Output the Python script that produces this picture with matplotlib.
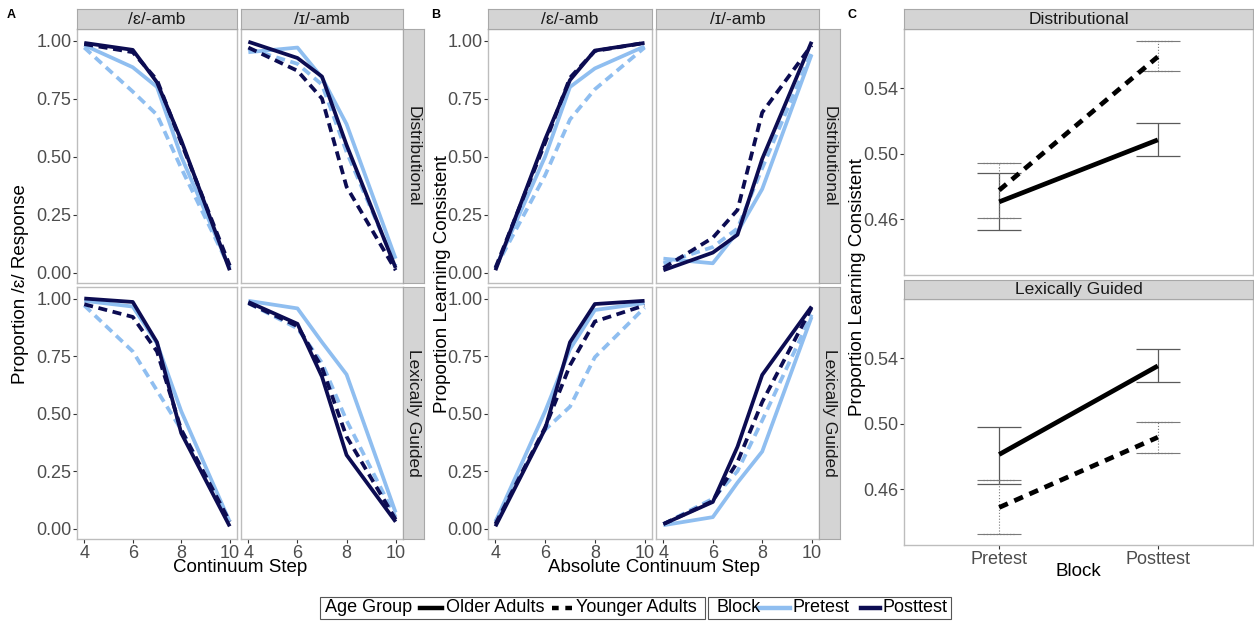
import matplotlib
matplotlib.use('Agg')
import matplotlib.pyplot as plt
from matplotlib.lines import Line2D
from matplotlib.patches import Rectangle

plt.rcParams['font.family'] = ['Liberation Sans', 'DejaVu Sans']

W, H = 1254, 621

# continuum steps (x) shared by panels A and B
steps = [4, 6, 7, 8, 10]

# panel A : proportion /e/ response, rows = pre/older, pre/younger, post/older, post/younger
a_dist_eps = [[0.98, 0.885, 0.80, 0.50, 0.02],
              [0.97, 0.78, 0.68, 0.45, 0.02],
              [0.99, 0.96, 0.82, 0.57, 0.01],
              [0.985, 0.95, 0.83, 0.56, 0.03]]
a_dist_ih = [[0.95, 0.97, 0.84, 0.64, 0.06],
             [0.965, 0.90, 0.81, 0.52, 0.03],
             [0.995, 0.925, 0.845, 0.55, 0.02],
             [0.97, 0.87, 0.75, 0.37, 0.01]]
a_lex_eps = [[0.99, 0.965, 0.805, 0.51, 0.03],
             [0.97, 0.77, 0.60, 0.43, 0.03],
             [1.0, 0.985, 0.81, 0.415, 0.01],
             [0.975, 0.92, 0.77, 0.43, 0.03]]
a_lex_ih = [[0.99, 0.957, 0.81, 0.67, 0.07],
            [0.98, 0.87, 0.72, 0.47, 0.05],
            [0.985, 0.89, 0.66, 0.32, 0.03],
            [0.98, 0.88, 0.70, 0.40, 0.04]]

# panel B : proportion learning consistent
b_dist_eps = [[0.02, 0.50, 0.80, 0.88, 0.975],
              [0.02, 0.42, 0.66, 0.79, 0.97],
              [0.01, 0.575, 0.83, 0.957, 0.99],
              [0.02, 0.56, 0.84, 0.955, 0.99]]
b_dist_ih = [[0.06, 0.04, 0.175, 0.36, 0.94],
             [0.04, 0.11, 0.19, 0.45, 0.95],
             [0.01, 0.086, 0.163, 0.49, 0.995],
             [0.02, 0.15, 0.27, 0.69, 0.98]]
b_lex_eps = [[0.03, 0.51, 0.78, 0.95, 0.98],
             [0.03, 0.43, 0.53, 0.745, 0.96],
             [0.01, 0.434, 0.81, 0.976, 0.99],
             [0.02, 0.44, 0.71, 0.90, 0.97]]
b_lex_ih = [[0.015, 0.05, 0.20, 0.335, 0.92],
            [0.02, 0.13, 0.25, 0.47, 0.93],
            [0.02, 0.116, 0.356, 0.668, 0.965],
            [0.02, 0.12, 0.29, 0.55, 0.96]]

# panel C : means with error bars (Pretest, Posttest)
blocks = ['Pretest', 'Posttest']
c_dist_old = [0.4706, 0.5084]
c_dist_old_lo = [0.4537, 0.4984]
c_dist_old_hi = [0.4880, 0.5185]
c_dist_young = [0.4777, 0.5591]
c_dist_young_lo = [0.4610, 0.5504]
c_dist_young_hi = [0.4941, 0.5689]
c_lex_old = [0.4812, 0.5352]
c_lex_old_lo = [0.4635, 0.5256]
c_lex_old_hi = [0.4982, 0.5453]
c_lex_young = [0.4489, 0.4917]
c_lex_young_lo = [0.4327, 0.4820]
c_lex_young_hi = [0.4655, 0.5012]

facet_cols = ['/ɛ/-amb', '/ɪ/-amb']
facet_rows = ['Distributional', 'Lexically Guided']

light = '#8fbef0'
navy = '#0c0c52'
tick_col = '#4d4d4d'
border = '#bdbdbd'
strip_fill = '#d4d4d4'
FS = 13

fig = plt.figure(figsize=(W / 100, H / 100), dpi=100)


def px_axes(x0, y0, x1, y1):
    return fig.add_axes([x0 / W, 1 - y1 / H, (x1 - x0) / W, (y1 - y0) / H])


def style_panel(ax):
    for s in ax.spines.values():
        s.set_color(border)
        s.set_linewidth(1.0)
    ax.tick_params(colors='#333333', labelcolor=tick_col, labelsize=FS,
                   length=3, width=0.8, pad=1)


def strip(x0, y0, x1, y1, text, rot=0):
    sa = px_axes(x0, y0, x1, y1)
    sa.set_facecolor(strip_fill)
    sa.set_xticks([])
    sa.set_yticks([])
    for s in sa.spines.values():
        s.set_color('#a8a8a8')
        s.set_linewidth(0.8)
    sa.text(0.5, 0.5, text, ha='center', va='center', rotation=rot,
            fontsize=FS - 0.5, color='#1a1a1a', transform=sa.transAxes)


def curve_panel(ax, data, show_x, show_y):
    styles = [(light, '-'), (light, '--'), (navy, '-'), (navy, '--')]
    for row, (col, ls) in zip(data, styles):
        line, = ax.plot(steps, row, color=col, lw=2.7, linestyle=ls,
                        solid_capstyle='butt')
        if ls == '--':
            line.set_dashes((2.4, 1.5))
    ax.set_xlim(3.7, 10.3)
    ax.set_ylim(-0.045, 1.05)
    ax.set_xticks([4, 6, 8, 10])
    ax.set_yticks([0, 0.25, 0.5, 0.75, 1.0])
    ax.set_yticklabels(['0.00', '0.25', '0.50', '0.75', '1.00'])
    style_panel(ax)
    if not show_x:
        ax.tick_params(axis='x', bottom=False, labelbottom=False)
    if not show_y:
        ax.tick_params(axis='y', left=False, labelleft=False)


def facet_grid(xl, xr, strip_r, data, xlabel, ylabel, ylab_x, letter, letter_x):
    cols = [xl, xr]
    rows = [(29, 283), (287, 539)]
    for i, (y0, y1) in enumerate(rows):
        for j, (x0, x1) in enumerate(cols):
            ax = px_axes(x0, y0, x1, y1)
            curve_panel(ax, data[i][j], show_x=(i == 1), show_y=(j == 0))
        strip(xr[1], y0, strip_r, y1, facet_rows[i], rot=-90)
    for j, (x0, x1) in enumerate(cols):
        strip(x0, 9, x1, 29, facet_cols[j])
    xc = (xl[0] + xr[1]) / 2
    fig.text(xc / W, 1 - 568 / H, xlabel, ha='center', va='center', fontsize=FS + 0.5)
    fig.text(ylab_x / W, 1 - 284 / H, ylabel, ha='center', va='center',
             rotation=90, fontsize=FS + 0.5)
    fig.text(letter_x / W, 1 - 15 / H, letter, ha='left', va='center',
             fontsize=9, fontweight='bold')


facet_grid((77, 237), (241, 403), 424,
           [[a_dist_eps, a_dist_ih], [a_lex_eps, a_lex_ih]],
           'Continuum Step', 'Proportion /ɛ/ Response', 21, 'A', 7)
facet_grid((488, 652), (656, 819), 840,
           [[b_dist_eps, b_dist_ih], [b_lex_eps, b_lex_ih]],
           'Absolute Continuum Step', 'Proportion Learning Consistent', 442, 'B', 431)

# panel C
c_sets = [
    (c_dist_old, c_dist_old_lo, c_dist_old_hi, c_dist_young, c_dist_young_lo, c_dist_young_hi),
    (c_lex_old, c_lex_old_lo, c_lex_old_hi, c_lex_young, c_lex_young_lo, c_lex_young_hi),
]
c_rows = [(9, 29, 275), (280, 299, 545)]
xpos = [1, 2]
for i, (s0, p0, p1) in enumerate(c_rows):
    ax = px_axes(904, p0, 1253, p1)
    old, old_lo, old_hi, young, young_lo, young_hi = c_sets[i]
    ax.errorbar(xpos, old, yerr=[[m - l for m, l in zip(old, old_lo)],
                                 [h - m for m, h in zip(old, old_hi)]],
                fmt='none', ecolor='#5a5a5a', elinewidth=0.9, capsize=16, capthick=0.9)
    eb = ax.errorbar(xpos, young, yerr=[[m - l for m, l in zip(young, young_lo)],
                                        [h - m for m, h in zip(young, young_hi)]],
                     fmt='none', ecolor='#7a7a7a', elinewidth=0.8, capsize=16, capthick=0.8)
    for c in eb[1]:
        c.set_linestyle('none')
    eb[2][0].set_linestyle(':')
    # dotted caps for younger adults
    for x, l, h in zip(xpos, young_lo, young_hi):
        ax.hlines([l, h], x - 0.105, x + 0.105, colors='#7a7a7a', linestyles=':', lw=0.9)
    ax.plot(xpos, old, color='black', lw=3.4, solid_capstyle='butt')
    ld, = ax.plot(xpos, young, color='black', lw=3.4, linestyle='--')
    ld.set_dashes((2.0, 1.5))
    ax.set_xlim(0.4, 2.6)
    ax.set_ylim(0.426, 0.576)
    ax.set_yticks([0.46, 0.50, 0.54])
    ax.set_yticklabels(['0.46', '0.50', '0.54'])
    ax.set_xticks(xpos)
    ax.set_xticklabels(blocks)
    style_panel(ax)
    if i == 0:
        ax.tick_params(axis='x', bottom=False, labelbottom=False)
    strip(904, s0, 1253, p0, facet_rows[i])
fig.text(1078 / W, 1 - 572 / H, 'Block', ha='center', va='center', fontsize=FS + 0.5)
fig.text(858 / W, 1 - 287 / H, 'Proportion Learning Consistent', ha='center', va='center',
         rotation=90, fontsize=FS + 0.5)
fig.text(848 / W, 1 - 15 / H, 'C', ha='left', va='center', fontsize=9, fontweight='bold')

# legend (two ggplot-style boxes drawn below the panels)
ly = 1 - 607.5 / H
for x0, x1 in [(320, 705), (708, 951)]:
    fig.add_artist(Rectangle((x0 / W, 1 - 619 / H), (x1 - x0) / W, 22 / H,
                             transform=fig.transFigure, fill=False, ec='#555555', lw=0.8))


def key(x0, x1, color, dashed=False, lw=3.2):
    ln = Line2D([x0 / W, x1 / W], [ly, ly], transform=fig.transFigure, color=color, lw=lw)
    if dashed:
        ln.set_dashes((1.5, 1.5))
    fig.add_artist(ln)


fig.text(325 / W, ly, 'Age Group', ha='left', va='center', fontsize=FS)
key(420, 442, 'black')
fig.text(446 / W, ly, 'Older Adults', ha='left', va='center', fontsize=FS)
key(552, 573, 'black', dashed=True)
fig.text(576 / W, ly, 'Younger Adults', ha='left', va='center', fontsize=FS)
fig.text(716 / W, ly, 'Block', ha='left', va='center', fontsize=FS)
key(758, 790, light)
fig.text(793 / W, ly, 'Pretest', ha='left', va='center', fontsize=FS)
key(861, 880, navy)
fig.text(883 / W, ly, 'Posttest', ha='left', va='center', fontsize=FS)

fig.savefig('out.png', dpi=100)
